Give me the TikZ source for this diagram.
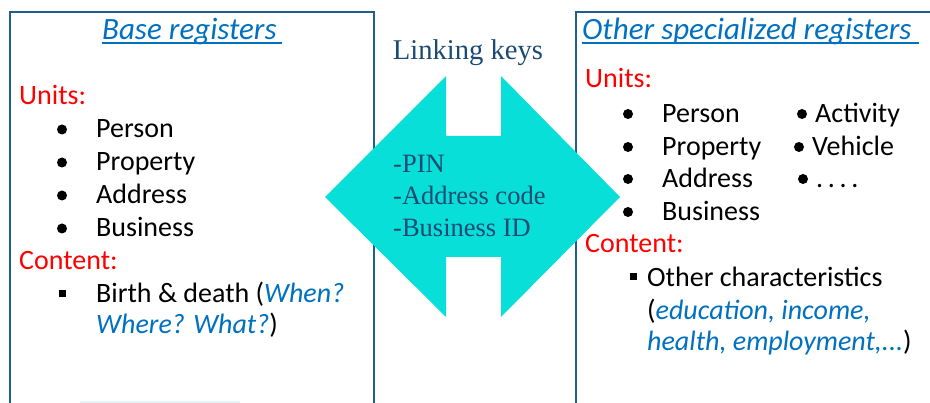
\documentclass[tikz,border=0pt]{standalone}
\usepackage{fontspec}
\setmainfont{Carlito}
\newfontfamily\keyserif{Liberation Serif}
\definecolor{boxc}{HTML}{1F5F8F}
\definecolor{arrowc}{HTML}{08DFD8}
\definecolor{redc}{HTML}{FF0000}
\definecolor{bluec}{HTML}{0070C0}
\definecolor{navyc}{HTML}{1B4A72}
\definecolor{glowc}{HTML}{E6F3FB}
\begin{document}
\begin{tikzpicture}[x=1pt,y=-1pt,
  txt/.style={anchor=base west, inner sep=0pt, font=\fontsize{28}{33}\selectfont},
  redtxt/.style={txt, text=redc},
  titletxt/.style={txt, text=bluec, font=\fontsize{31}{36}\selectfont\itshape},
  keytxt/.style={anchor=base west, inner sep=0pt, text=navyc, font=\keyserif\fontsize{26.5}{32}\selectfont},
  frame/.style={draw=boxc, line width=2pt},
  dot/.style={fill=black},
  uline/.style={draw=bluec, line width=1.3pt}]
\useasboundingbox (0,0) rectangle (930,403);
% boxes
\draw[frame] (10,403) -- (10,12) -- (374,12) -- (374,403);
\draw[frame] (576,403) -- (576,12) -- (930,12);
\draw[glowc, line width=2pt] (80,402) -- (240,402);
% left box
\node[titletxt] (btitle) at (102,40) {Base registers};
\draw[uline] (102,43) -- (282,43);
\node[redtxt] (lunits) at (19,105) {Units:};
\node[txt] (lp1) at (96,138) {Person};
\node[txt] (lp2) at (96,171) {Property};
\node[txt] (lp3) at (96,204) {Address};
\node[txt] (lp4) at (96,237) {Business};
\foreach \yy in {138,171,204,237} \fill[dot] (62,\yy-8.5) circle (5);
\node[redtxt] (lcontent) at (19,270) {Content:};
\fill[dot] (58.5,290) rectangle (65.5,297);
\node[txt] (lc1) at (96,303) {Birth \& death (\textcolor{bluec}{\itshape When?}};
\node[txt] (lc2) at (96,334) {\textcolor{bluec}{\itshape Where? What?})};
% right box
\node[titletxt] (rtitle) at (582,40) {Other specialized registers};
\draw[uline] (582,43) -- (919,43);
\node[redtxt] (runits) at (585,88) {Units:};
\node[txt] (rp1) at (662,123) {Person};
\node[txt] (rp2) at (662,156) {Property};
\node[txt] (rp3) at (662,188) {Address};
\node[txt] (rp4) at (662,221) {Business};
\foreach \yy in {123,156,188,221} \fill[dot] (628,\yy-9) circle (5);
\node[txt] (ra1) at (815,123) {Activity};
\node[txt] (ra2) at (812,156) {Vehicle};
\node[txt] (ra3) at (816,188) {.\,.\,.\,.};
\fill[dot] (802,114) circle (5);
\fill[dot] (799,147) circle (5);
\fill[dot] (803,179) circle (5);
\node[redtxt] (rcontent) at (585,253) {Content:};
\fill[dot] (629.5,273.5) rectangle (636.5,280.5);
\node[txt] (rc1) at (647,287) {Other characteristics};
\node[txt] (rc2) at (647,320) {(\textcolor{bluec}{\itshape education, income,}};
\node[txt] (rc3) at (647,351) {\textcolor{bluec}{\itshape health, employment,...})};
% linking arrow
\fill[arrowc] (325,197) -- (446,76) -- (446,136) -- (501,136) -- (501,76) -- (620,197)
  -- (501,317) -- (501,257) -- (446,257) -- (446,317) -- cycle;
\node[anchor=base, inner sep=0pt, text=navyc, font=\keyserif\fontsize{28.6}{34}\selectfont] (lk) at (468,60) {Linking keys};
\node[keytxt] (k1) at (393,173) {-PIN};
\node[keytxt] (k2) at (393,205) {-Address code};
\node[keytxt] (k3) at (393,237) {-Business ID};
\end{tikzpicture}
\end{document}
